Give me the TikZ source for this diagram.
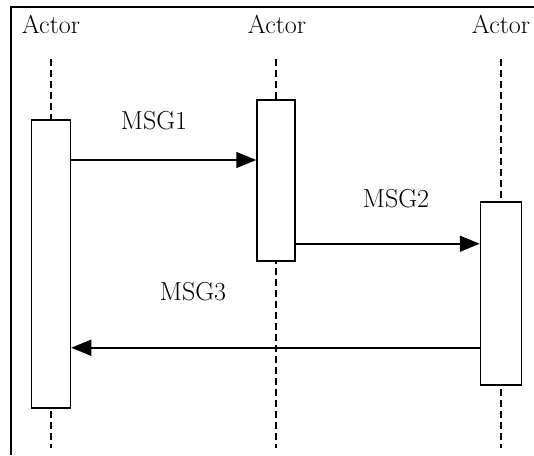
\documentclass[tikz,border=0pt]{standalone}
\usetikzlibrary{arrows.meta,positioning}

\begin{document}
\begin{tikzpicture}[x=1pt, y=-1pt, font=\fontsize{26}{30}\selectfont,
  actor/.style={anchor=base, inner sep=0pt},
  msglabel/.style={anchor=base, inner sep=0pt},
  bar/.style={draw, line width=1.5pt, fill=white, inner sep=0pt, minimum width=39pt},
  lifeline/.style={line width=1.8pt, dash pattern=on 7pt off 4pt},
  msg/.style={line width=1.5pt, -{Triangle[length=20pt,width=16pt]}}]
\useasboundingbox (0,0) rectangle (534,455);
% frame
\draw[line width=2pt] (11,455) -- (11,7) -- (534,7);

% actors
\node[actor] (actA) at (51,33) {Actor};
\node[actor] (actB) at (277,33) {Actor};
\node[actor] (actC) at (501,33) {Actor};

\coordinate (topA) at (51,59);
\coordinate (topB) at (276,59);
\coordinate (topC) at (501,59);
\coordinate (botA) at (51,448);
\coordinate (botB) at (276,448);
\coordinate (botC) at (501,448);

% lifelines
\draw[lifeline] (topA) -- (botA);
\draw[lifeline] (topB) -- (botB);
\draw[lifeline] (topC) -- (botC);

% activation bars
\node[bar, minimum height=288pt] (barA) at (51,264) {};
\node[bar, minimum height=161pt, minimum width=38pt] (barB) at (276,180.5) {};
\node[bar, minimum height=183pt, minimum width=41pt] (barC) at (501,293.5) {};

% messages
\node[msglabel] (msg1) at (154,129) {MSG1};
\node[msglabel] (msg2) at (396,207) {MSG2};
\node[msglabel] (msg3) at (193,300) {MSG3};

\draw[msg] ([yshift=104pt]barA.east) -- ([yshift=104pt]barA.east -| barB.west);
\draw[msg] ([yshift=18pt]barB.south east) -- ([yshift=18pt]barB.south east -| barC.west);
\draw[msg] ([yshift=38pt]barC.south west) -- ([yshift=38pt]barC.south west -| barA.east);
\end{tikzpicture}
\end{document}
